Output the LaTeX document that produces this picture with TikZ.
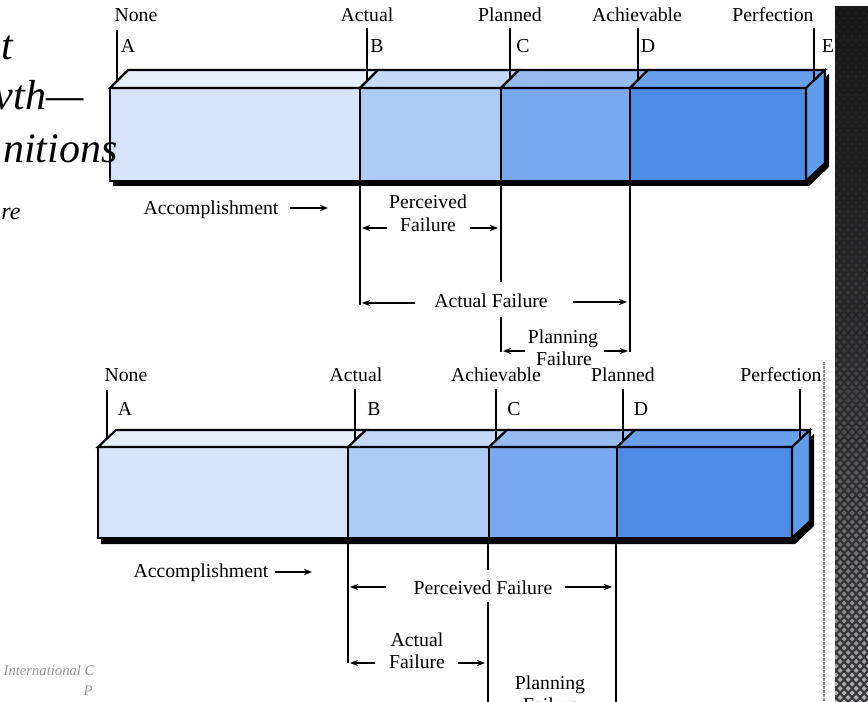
\documentclass[tikz,border=0pt]{standalone}
\usepackage{fontspec}
\setmainfont{Liberation Serif}
\usetikzlibrary{arrows.meta}

\definecolor{segOne}{RGB}{214,228,250}
\definecolor{segOneTop}{RGB}{232,240,253}
\definecolor{segTwo}{RGB}{174,203,245}
\definecolor{segTwoTop}{RGB}{196,218,248}
\definecolor{segThree}{RGB}{122,168,238}
\definecolor{segThreeTop}{RGB}{150,188,242}
\definecolor{segFour}{RGB}{78,140,229}
\definecolor{segFourTop}{RGB}{104,160,236}
\definecolor{segSide}{RGB}{96,156,236}
\definecolor{stripTop}{RGB}{22,22,22}
\definecolor{stripBot}{RGB}{58,58,62}
\definecolor{footGrey}{RGB}{150,150,150}

\tikzset{every picture/.style={line width=0.75pt}}
\tikzset{
  lbl/.style={font=\fontsize{14.8}{16}\selectfont, inner sep=0pt, anchor=base},
  ttl/.style={font=\fontsize{31.5}{34}\selectfont\itshape, inner sep=0pt, anchor=base east},
  foot/.style={font=\fontsize{11}{12}\selectfont\itshape, text=footGrey, inner sep=0pt, anchor=base east},
  tick/.style={line width=0.8pt},
  barln/.style={draw=black, line width=1.6pt},
  dimarr/.style={line width=0.9pt, -{Stealth[length=6pt,width=4.6pt]}},
}

\begin{document}
\begin{tikzpicture}[x=0.75pt,y=0.75pt,yscale=-1,xscale=1]
	\useasboundingbox (0,0) rectangle (868,702);
	\clip (0,0) rectangle (868,702);

	%Shape: Rectangle (slide strip)
	\shade[top color=stripTop, bottom color=stripBot] (835,7) rectangle (868,702);
	\foreach \j in {0,...,154} {
	  \foreach \i in {0,...,4} {
	    \pgfmathsetmacro\cx{836+8*\i+4*mod(\j,2)}
	    \pgfmathsetmacro\cy{9+4.5*\j}
	    \pgfmathsetmacro\op{0.03+0.6*(\cy/702)^3}
	    \fill[white, opacity=\op] (\cx,\cy-2.5) -- (\cx+2.5,\cy) -- (\cx,\cy+2.5) -- (\cx-2.5,\cy) -- cycle;
	  }
	}
	%Straight Lines (edge of lower figure)
	\draw [color=footGrey, line width=0.8pt, dash pattern=on 2pt off 1pt] (824,362) -- (824,702);

	% Text Node (title, partly hidden)
	\node[ttl] (ttlOne) at (14,60) {t};
	\node[ttl] (ttlTwo) at (84,110) {vth—};
	\node[ttl, font=\fontsize{18}{20}\selectfont\itshape] (ttlFour) at (21,220) {re};
	% Text Node (footer)
	\node[foot] (footOne) at (95,675) {International C};
	\node[foot] (footTwo) at (93,695) {P};

	%%%%% upper bar
	%Shape: Shadow
	\fill (113,93) -- (809,93) -- (829,74) -- (829,167) -- (809,186) -- (113,186) -- cycle;
	%Shape: Rectangle
	\filldraw [fill=segOne, barln] (110,88) rectangle (360,181);
	\filldraw [fill=segTwo, barln] (360,88) rectangle (501,181);
	\filldraw [fill=segThree, barln] (501,88) rectangle (630,181);
	\filldraw [fill=segFour, barln] (630,88) rectangle (806,181);
	%Shape: Top face
	\filldraw [fill=segOneTop, barln] (110,88) -- (128,70) -- (378,70) -- (360,88) -- cycle;
	\filldraw [fill=segTwoTop, barln] (360,88) -- (378,70) -- (519,70) -- (501,88) -- cycle;
	\filldraw [fill=segThreeTop, barln] (501,88) -- (519,70) -- (648,70) -- (630,88) -- cycle;
	\filldraw [fill=segFourTop, barln] (630,88) -- (648,70) -- (825,70) -- (806,88) -- cycle;
	%Shape: Side face
	\filldraw [fill=segSide, barln] (806,88) -- (825,70) -- (825,163) -- (806,181) -- cycle;

	% Text Node
	\node[lbl] (upNone) at (136,22) {None};
	\node[lbl] (upActual) at (367,22) {Actual};
	\node[lbl] (upPlanned) at (510,22) {Planned};
	\node[lbl] (upAchv) at (637,22) {Achievable};
	\node[lbl] (upPerf) at (773,22) {Perfection};
	\node[lbl] (upA) at (128,53) {A};
	\node[lbl] (upB) at (377,53) {B};
	\node[lbl] (upC) at (523,53) {C};
	\node[lbl] (upD) at (648,53) {D};
	\node[lbl] (upE) at (828,53) {E};

	%Straight Lines (ticks)
	\coordinate (upTkA1) at (117,30);  \coordinate (upTkA2) at (117,81);
	\coordinate (upTkB1) at (367,28);  \coordinate (upTkB2) at (367,81);
	\coordinate (upTkC1) at (510,28);  \coordinate (upTkC2) at (510,79);
	\coordinate (upTkD1) at (638,28);  \coordinate (upTkD2) at (638,80);
	\coordinate (upTkE1) at (814,28);  \coordinate (upTkE2) at (814,80);
	\draw[tick] (upTkA1) -- (upTkA2);
	\draw[tick] (upTkB1) -- (upTkB2);
	\draw[tick] (upTkC1) -- (upTkC2);
	\draw[tick] (upTkD1) -- (upTkD2);
	\draw[tick] (upTkE1) -- (upTkE2);

	% Text Node (title over the bar edge)
	\node[ttl] (ttlThree) at (118,163) {nitions};

	%Straight Lines (drop lines)
	\coordinate (upDpB1) at (360,181); \coordinate (upDpB2) at (360,305);
	\coordinate (upDpC1) at (501,181); \coordinate (upDpC2) at (501,282);
	\coordinate (upDpC3) at (501,317); \coordinate (upDpC4) at (501,352);
	\coordinate (upDpD1) at (630,181); \coordinate (upDpD2) at (630,352);
	\draw[tick] (upDpB1) -- (upDpB2);
	\draw[tick] (upDpC1) -- (upDpC2);
	\draw[tick] (upDpC3) -- (upDpC4);
	\draw[tick] (upDpD1) -- (upDpD2);

	% Text Node
	\node[lbl] (upAcc) at (211,215) {Accomplishment};
	\node[lbl] (upPerc1) at (428,209) {Perceived};
	\node[lbl] (upPerc2) at (428,232) {Failure};
	\node[lbl] (upActF) at (491,308) {Actual Failure};
	\node[lbl] (upPlan1) at (563,344) {Planning};
	\node[lbl] (upPlan2) at (564,366) {Failure};

	%Straight Lines (arrows)
	\coordinate (upAcc1) at (290,208);  \coordinate (upAcc2) at (328,208);
	\coordinate (upPcL1) at (387,228);  \coordinate (upPcL2) at (362,228);
	\coordinate (upPcR1) at (470,228);  \coordinate (upPcR2) at (498,228);
	\coordinate (upAfL1) at (415,303);  \coordinate (upAfL2) at (362,303);
	\coordinate (upAfR1) at (573,302);  \coordinate (upAfR2) at (627,302);
	\coordinate (upPfL1) at (525,351);  \coordinate (upPfL2) at (503,351);
	\coordinate (upPfR1) at (604,351);  \coordinate (upPfR2) at (628,351);
	\draw[dimarr] (upAcc1) -- (upAcc2);
	\draw[dimarr] (upPcL1) -- (upPcL2);
	\draw[dimarr] (upPcR1) -- (upPcR2);
	\draw[dimarr] (upAfL1) -- (upAfL2);
	\draw[dimarr] (upAfR1) -- (upAfR2);
	\draw[dimarr] (upPfL1) -- (upPfL2);
	\draw[dimarr] (upPfR1) -- (upPfR2);

	%%%%% lower bar
	%Shape: Shadow
	\fill (101,452) -- (795,452) -- (814,434) -- (814,526) -- (795,544) -- (101,544) -- cycle;
	%Shape: Rectangle
	\filldraw [fill=segOne, barln] (98,447) rectangle (348,538);
	\filldraw [fill=segTwo, barln] (348,447) rectangle (489,538);
	\filldraw [fill=segThree, barln] (489,447) rectangle (617,538);
	\filldraw [fill=segFour, barln] (617,447) rectangle (792,538);
	%Shape: Top face
	\filldraw [fill=segOneTop, barln] (98,447) -- (116,430) -- (366,430) -- (348,447) -- cycle;
	\filldraw [fill=segTwoTop, barln] (348,447) -- (366,430) -- (507,430) -- (489,447) -- cycle;
	\filldraw [fill=segThreeTop, barln] (489,447) -- (507,430) -- (635,430) -- (617,447) -- cycle;
	\filldraw [fill=segFourTop, barln] (617,447) -- (635,430) -- (810,430) -- (792,447) -- cycle;
	%Shape: Side face
	\filldraw [fill=segSide, barln] (792,447) -- (810,430) -- (810,521) -- (792,538) -- cycle;

	% Text Node
	\node[lbl] (loNone) at (126,382) {None};
	\node[lbl] (loActual) at (356,382) {Actual};
	\node[lbl] (loAchv) at (496,382) {Achievable};
	\node[lbl] (loPlanned) at (623,382) {Planned};
	\node[lbl] (loPerf) at (781,382) {Perfection};
	\node[lbl] (loA) at (125,416) {A};
	\node[lbl] (loB) at (374,416) {B};
	\node[lbl] (loC) at (514,416) {C};
	\node[lbl] (loD) at (641,416) {D};

	%Straight Lines (ticks)
	\coordinate (loTkA1) at (107,390);  \coordinate (loTkA2) at (107,438);
	\coordinate (loTkB1) at (355,389);  \coordinate (loTkB2) at (355,440);
	\coordinate (loTkC1) at (496,389);  \coordinate (loTkC2) at (496,440);
	\coordinate (loTkD1) at (623,389);  \coordinate (loTkD2) at (623,441);
	\coordinate (loTkE1) at (800,389);  \coordinate (loTkE2) at (800,439);
	\draw[tick] (loTkA1) -- (loTkA2);
	\draw[tick] (loTkB1) -- (loTkB2);
	\draw[tick] (loTkC1) -- (loTkC2);
	\draw[tick] (loTkD1) -- (loTkD2);
	\draw[tick] (loTkE1) -- (loTkE2);

	%Straight Lines (drop lines)
	\coordinate (loDpB1) at (348,538); \coordinate (loDpB2) at (348,663);
	\coordinate (loDpC1) at (488,538); \coordinate (loDpC2) at (488,570);
	\coordinate (loDpC3) at (488,602); \coordinate (loDpC4) at (488,702);
	\coordinate (loDpD1) at (616,538); \coordinate (loDpD2) at (616,702);
	\draw[tick] (loDpB1) -- (loDpB2);
	\draw[tick] (loDpC1) -- (loDpC2);
	\draw[tick] (loDpC3) -- (loDpC4);
	\draw[tick] (loDpD1) -- (loDpD2);

	% Text Node
	\node[lbl] (loAcc) at (201,577) {Accomplishment};
	\node[lbl] (loPerc) at (483,594) {Perceived Failure};
	\node[lbl] (loAct1) at (417,646) {Actual};
	\node[lbl] (loAct2) at (417,668) {Failure};
	\node[lbl] (loPlan1) at (550,689) {Planning};
	\node[lbl] (loPlan2) at (551,711) {Failure};

	%Straight Lines (arrows)
	\coordinate (loAcc1) at (275,572);  \coordinate (loAcc2) at (312,572);
	\coordinate (loPcL1) at (386,587);  \coordinate (loPcL2) at (350,587);
	\coordinate (loPcR1) at (565,587);  \coordinate (loPcR2) at (612,587);
	\coordinate (loAfL1) at (375,663);  \coordinate (loAfL2) at (350,663);
	\coordinate (loAfR1) at (458,663);  \coordinate (loAfR2) at (485,663);
	\draw[dimarr] (loAcc1) -- (loAcc2);
	\draw[dimarr] (loPcL1) -- (loPcL2);
	\draw[dimarr] (loPcR1) -- (loPcR2);
	\draw[dimarr] (loAfL1) -- (loAfL2);
	\draw[dimarr] (loAfR1) -- (loAfR2);

\end{tikzpicture}
\end{document}
